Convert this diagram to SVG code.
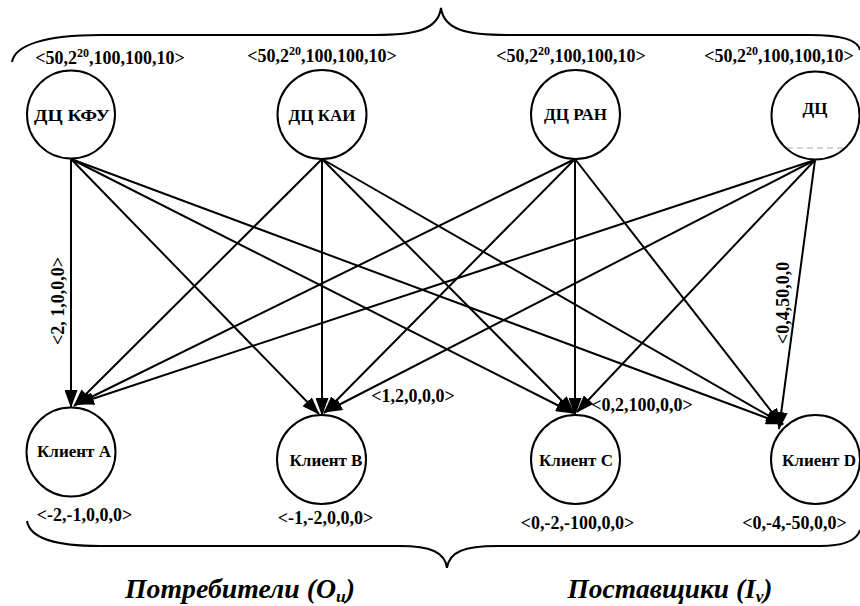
<svg xmlns="http://www.w3.org/2000/svg" width="860" height="606" viewBox="0 0 860 606">
<defs>
<style>
.node{fill:#fff;stroke:#000;stroke-width:2}
.edge{stroke:#000;stroke-width:2;fill:none;marker-end:url(#arr)}
.brace{stroke:#000;stroke-width:2;fill:none}
.t{font-family:"Liberation Serif","Times New Roman",serif;font-weight:bold;font-size:18px;fill:#000;text-anchor:middle}
.nl{font-size:17px}
.title{font-family:"Liberation Serif","Times New Roman",serif;font-weight:bold;font-style:italic;font-size:27px;fill:#000;text-anchor:middle}
</style>
<marker id="arr" markerUnits="userSpaceOnUse" markerWidth="18" markerHeight="13" refX="17" refY="6.5" orient="auto">
<path d="M0,0 L18,6.5 L0,13 z" fill="#000"/>
</marker>
</defs>
<rect width="860" height="606" fill="#fff"/>

<g id="braces">
<path class="brace" d="M12,62 C15,45 45,35 100,35 L375,35 C415,35 438,30 441,8 C444,30 467,35 507,35 L810,35 C840,35 858,40 860,50"/>
<path class="brace" d="M27,521 C30,540 60,546 100,546 L400,546 C430,546 445,552 447,568 C449,552 464,546 497,546 L820,546 C845,546 857,540 860,530"/>
</g>

<g id="connectors">
<line class="edge" x1="71" y1="159" x2="71" y2="407"/>
<line class="edge" x1="71" y1="159" x2="319" y2="414"/>
<line class="edge" x1="71" y1="159" x2="573" y2="413"/>
<line class="edge" x1="71" y1="159" x2="783" y2="424"/>
<line class="edge" x1="322" y1="159" x2="74" y2="406"/>
<line class="edge" x1="322" y1="159" x2="322" y2="415"/>
<line class="edge" x1="322" y1="159" x2="574" y2="413"/>
<line class="edge" x1="322" y1="159" x2="783" y2="424"/>
<line class="edge" x1="575" y1="159" x2="75" y2="405"/>
<line class="edge" x1="575" y1="159" x2="324" y2="413"/>
<line class="edge" x1="575" y1="159" x2="575" y2="415"/>
<line class="edge" x1="575" y1="159" x2="782" y2="425"/>
<line class="edge" x1="815" y1="160" x2="77" y2="404"/>
<line class="edge" x1="815" y1="160" x2="325" y2="412"/>
<line class="edge" x1="815" y1="160" x2="577" y2="412"/>
<line class="edge" x1="815" y1="160" x2="779" y2="429"/>
<text class="t" transform="translate(64,301) rotate(-90)">&lt;2, 1,0,0,0&gt;</text>
<text class="t" transform="translate(789,303) rotate(-90)">&lt;0,4,50,0,0</text>
<text class="t" x="413" y="402">&lt;1,2,0,0,0&gt;</text>
<text class="t" x="642" y="411">&lt;0,2,100,0,0&gt;</text>
</g>

<g id="dc-kfu">
<circle class="node" cx="71" cy="114.5" r="44"/>
<text class="t nl" x="72" y="121" textLength="76" lengthAdjust="spacingAndGlyphs">ДЦ КФУ</text>
<text class="t" x="110" y="64">&lt;50,2<tspan font-size="12" dy="-7">20</tspan><tspan dy="7">,100,100,10&gt;</tspan></text>
</g>
<g id="dc-kai">
<circle class="node" cx="322" cy="114.5" r="44.5"/>
<text class="t nl" x="322" y="121">ДЦ КАИ</text>
<text class="t" x="322" y="62">&lt;50,2<tspan font-size="12" dy="-7">20</tspan><tspan dy="7">,100,100,10&gt;</tspan></text>
</g>
<g id="dc-ran">
<circle class="node" cx="575.5" cy="114.5" r="44.5"/>
<text class="t nl" x="575.5" y="120">ДЦ РАН</text>
<text class="t" x="571" y="62">&lt;50,2<tspan font-size="12" dy="-7">20</tspan><tspan dy="7">,100,100,10&gt;</tspan></text>
</g>
<g id="dc">
<circle class="node" cx="815.5" cy="115.5" r="44"/>
<text class="t nl" x="815" y="114">ДЦ</text>
<line x1="787" y1="148" x2="843" y2="148" stroke="#aaa" stroke-width="1" stroke-dasharray="6,4"/>
<text class="t" x="779" y="62">&lt;50,2<tspan font-size="12" dy="-7">20</tspan><tspan dy="7">,100,100,10&gt;</tspan></text>
</g>

<g id="client-a">
<circle class="node" cx="71" cy="452" r="44.5"/>
<text class="t nl" x="74" y="457">Клиент A</text>
<text class="t" x="84.5" y="521">&lt;-2,-1,0,0,0&gt;</text>
</g>
<g id="client-b">
<circle class="node" cx="321.5" cy="459.5" r="44.5"/>
<text class="t nl" x="326" y="466">Клиент B</text>
<text class="t" x="325.5" y="524">&lt;-1,-2,0,0,0&gt;</text>
</g>
<g id="client-c">
<circle class="node" cx="575.5" cy="459.5" r="44.5"/>
<text class="t nl" x="576" y="466">Клиент C</text>
<text class="t" x="577.5" y="529">&lt;0,-2,-100,0,0&gt;</text>
</g>
<g id="client-d">
<circle class="node" cx="815.5" cy="459.5" r="44.5"/>
<text class="t nl" x="819" y="466">Клиент D</text>
<text class="t" x="794.5" y="529">&lt;0,-4,-50,0,0&gt;</text>
</g>

<g id="titles">
<text class="title" x="240" y="598" textLength="230" lengthAdjust="spacingAndGlyphs">Потребители (O<tspan font-size="17" dy="4">u</tspan><tspan dy="-4">)</tspan></text>
<text class="title" x="670" y="598" textLength="205" lengthAdjust="spacingAndGlyphs">Поставщики (I<tspan font-size="17" dy="4">v</tspan><tspan dy="-4">)</tspan></text>
</g>
</svg>
